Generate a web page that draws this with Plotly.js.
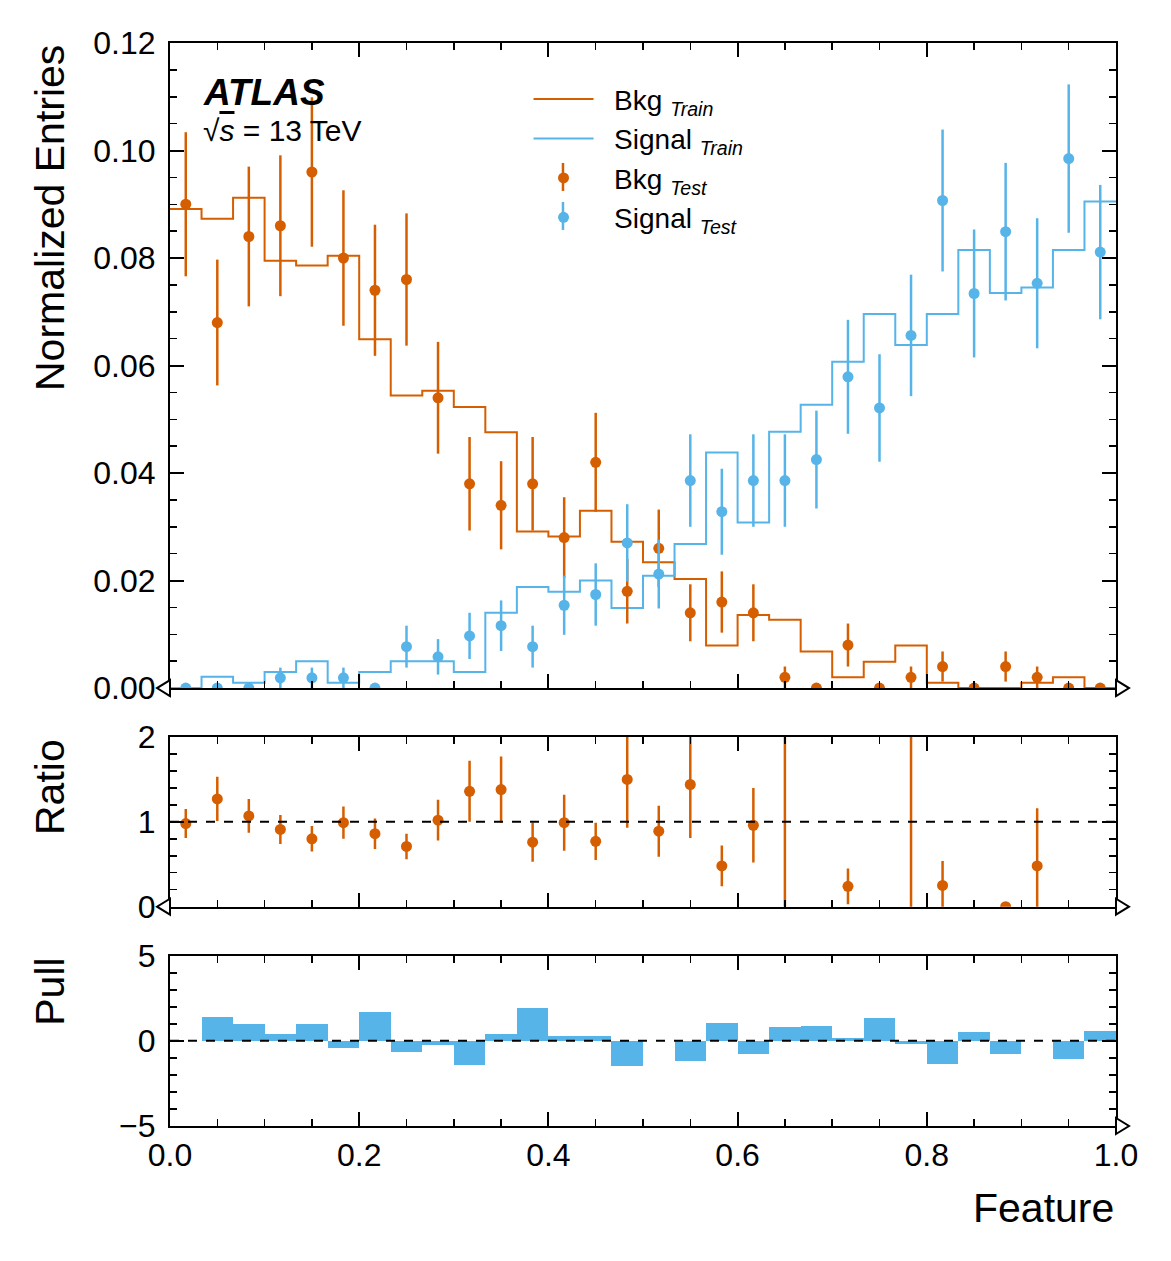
<!DOCTYPE html>
<html>
<head>
<meta charset="utf-8">
<script src="https://cdn.plot.ly/plotly-3.0.1.min.js"></script>
<style>
  body { margin: 0; background: #fff; }
  #plot { width: 1171px; height: 1261px; }
</style>
</head>
<body>
<div id="plot"></div>
<script>
// histogram binning of the feature (30 equal bins on [0, 1])
const nBins = 30;
const binEdges = [];
for (let i = 0; i <= nBins; i++) binEdges.push(i / nBins);
const binCenters = binEdges.slice(0, -1).map((e, i) => (e + binEdges[i + 1]) / 2);

// training histograms (normalized)
const bkgTrain = [0.0891, 0.0873, 0.0912, 0.0795, 0.0786, 0.0804, 0.0649, 0.0544, 0.0553, 0.0523,
                  0.0476, 0.0291, 0.0282, 0.0330, 0.0272, 0.0234, 0.0203, 0.0079, 0.0136, 0.0127,
                  0.0068, 0.0020, 0.0049, 0.0079, 0.0010, 0, 0, 0.0010, 0.0020, 0];
const sigTrain = [0, 0.0021, 0.0010, 0.0030, 0.0050, 0.0010, 0.0030, 0.0050, 0.0050, 0.0030,
                  0.0140, 0.0188, 0.0179, 0.0200, 0.0149, 0.0209, 0.0268, 0.0438, 0.0308, 0.0477,
                  0.0527, 0.0607, 0.0696, 0.0638, 0.0696, 0.0815, 0.0735, 0.0745, 0.0815, 0.0905];

// test samples (normalized) with their errors
const bkgTest = [0.090, 0.068, 0.084, 0.086, 0.096, 0.080, 0.074, 0.076, 0.054, 0.038,
                 0.034, 0.038, 0.028, 0.042, 0.018, 0.026, 0.014, 0.016, 0.014, 0.002,
                 0, 0.008, 0, 0.002, 0.004, 0, 0.004, 0.002, 0, 0];
const bkgTestErr = [0.0134, 0.0117, 0.0130, 0.0131, 0.0139, 0.0126, 0.0122, 0.0123, 0.0104, 0.0087,
                    0.0082, 0.0087, 0.0075, 0.0092, 0.0060, 0.0072, 0.0053, 0.0057, 0.0053, 0.0020,
                    0, 0.0040, 0, 0.0020, 0.0028, 0, 0.0028, 0.0020, 0, 0];
const sigTest = [0, 0, 0, 0.0019, 0.0019, 0.0019, 0, 0.0077, 0.0058, 0.0097,
                 0.0116, 0.0077, 0.0154, 0.0174, 0.0270, 0.0212, 0.0386, 0.0328, 0.0386, 0.0386,
                 0.0425, 0.0579, 0.0521, 0.0656, 0.0907, 0.0734, 0.0849, 0.0753, 0.0985, 0.0811];
const sigTestErr = [0, 0, 0, 0.0019, 0.0019, 0.0019, 0, 0.0039, 0.0033, 0.0043,
                    0.0047, 0.0039, 0.0055, 0.0058, 0.0072, 0.0064, 0.0086, 0.0080, 0.0086, 0.0086,
                    0.0091, 0.0106, 0.0100, 0.0113, 0.0132, 0.0119, 0.0128, 0.0121, 0.0138, 0.0125];

// bkg ratio panel
const ratio = [0.98, 1.27, 1.07, 0.91, 0.80, 0.99, 0.86, 0.71, 1.02, 1.36,
               1.38, 0.76, 0.99, 0.77, 1.50, 0.89, 1.44, 0.48, 0.96, 6.35,
               null, 0.24, null, 3.95, 0.25, null, 0, 0.48, null, null];
const ratioErr = [0.17, 0.26, 0.20, 0.17, 0.15, 0.19, 0.18, 0.15, 0.24, 0.36,
                  0.39, 0.23, 0.33, 0.22, 0.57, 0.30, 0.63, 0.24, 0.44, 6.4,
                  null, 0.21, null, 4.0, 0.29, null, 0, 0.68, null, null];

// signal pull panel
const pull = [0, 1.39, 0.98, 0.39, 0.98, -0.41, 1.69, -0.65, -0.25, -1.43,
              0.39, 1.92, 0.31, 0.31, -1.47, 0, -1.18, 1.04, -0.76, 0.80,
              0.86, 0.16, 1.33, -0.18, -1.35, 0.51, -0.76, 0, -1.06, 0.57];

const ORANGE = '#d55e00';
const BLUE = '#56b4e9';
const FONT = 'Liberation Sans, Arial, Helvetica, sans-serif';
const GAP = '\u00a0\u00a0';

// step outline: left edges + last right edge
function stepY(vals) { return vals.concat([vals[vals.length - 1]]); }

const data = [
    {
        x: binEdges, y: stepY(bkgTrain), xaxis: 'x2', yaxis: 'y2',
        type: 'scatter', mode: 'lines', line: {shape: 'hv', color: ORANGE, width: 2},
        name: GAP + 'Bkg <sub><i>Train</i></sub>'
    },
    {
        x: binEdges, y: stepY(sigTrain), xaxis: 'x2', yaxis: 'y2',
        type: 'scatter', mode: 'lines', line: {shape: 'hv', color: BLUE, width: 2},
        name: GAP + 'Signal <sub><i>Train</i></sub>'
    },
    {
        x: binCenters, y: bkgTest, xaxis: 'x2', yaxis: 'y2',
        type: 'scatter', mode: 'markers', marker: {color: ORANGE, size: 11},
        error_y: {type: 'data', array: bkgTestErr, visible: true, color: ORANGE, thickness: 2.5, width: 0},
        name: GAP + 'Bkg <sub><i>Test</i></sub>'
    },
    {
        x: binCenters, y: sigTest, xaxis: 'x2', yaxis: 'y2',
        type: 'scatter', mode: 'markers', marker: {color: BLUE, size: 11},
        error_y: {type: 'data', array: sigTestErr, visible: true, color: BLUE, thickness: 2.5, width: 0},
        name: GAP + 'Signal <sub><i>Test</i></sub>'
    },
    {
        x: binCenters, y: ratio, xaxis: 'x3', yaxis: 'y3',
        type: 'scatter', mode: 'markers', marker: {color: ORANGE, size: 11},
        error_y: {type: 'data', array: ratioErr, visible: true, color: ORANGE, thickness: 2.5, width: 0},
        showlegend: false
    },
    {
        x: binCenters, y: pull, xaxis: 'x', yaxis: 'y',
        type: 'bar', width: 1 / nBins, marker: {color: BLUE, line: {width: 0}},
        showlegend: false
    }
];

const axisBase = {
    showline: true, linecolor: 'black', linewidth: 2, mirror: 'allticks',
    ticks: 'inside', ticklen: 14, tickwidth: 2, tickcolor: 'black',
    showgrid: false, zeroline: false,
    tickfont: {family: FONT, size: 32, color: 'black'},
    ticklabelstandoff: 6,
};

function minor(dtick) {
    return {ticks: 'inside', ticklen: 7, tickwidth: 1.5, tickcolor: 'black', dtick: dtick, showgrid: false};
}

const mainDom = [0.4044, 1];
const ratioDom = [0.2025, 0.3592];
const pullDom = [0, 0.1572];

// open triangles marking the axis ends
function tri(xa, ya, dir) {
    const p = dir < 0 ? 'M0,-8 L-13,0 L0,8 Z' : 'M0,-8 L13,0 L0,8 Z';
    return {
        type: 'path', xref: 'paper', yref: 'paper', xsizemode: 'pixel', ysizemode: 'pixel',
        xanchor: xa, yanchor: ya, path: p,
        line: {color: 'black', width: 2}, fillcolor: 'white', layer: 'above'
    };
}

// little error-bar stroke behind the legend markers of the test samples
function legendBar(ya, color) {
    return {
        type: 'line', xref: 'paper', yref: 'paper', ysizemode: 'pixel', yanchor: ya,
        x0: 0.4154, x1: 0.4154, y0: -14, y1: 14,
        line: {color: color, width: 2.5}, layer: 'above'
    };
}

const layout = {
    width: 1171, height: 1261,
    margin: {l: 170, r: 55, t: 43, b: 135},
    paper_bgcolor: 'white', plot_bgcolor: 'white',
    font: {family: FONT, color: 'black'},
    showlegend: true,
    legend: {
        x: 0.379, y: 0.971, xanchor: 'left', yanchor: 'top',
        bgcolor: 'rgba(0,0,0,0)', font: {family: FONT, size: 28},
        itemwidth: 60, tracegroupgap: 0
    },
    bargap: 0,
    xaxis: Object.assign({}, axisBase, {
        domain: [0, 1], range: [0, 1], anchor: 'y', dtick: 0.2, tick0: 0,
        tickformat: '.1f', minor: minor(0.05), ticklabelstandoff: 0
    }),
    xaxis2: Object.assign({}, axisBase, {
        domain: [0, 1], range: [0, 1], anchor: 'y2', matches: 'x', dtick: 0.2, tick0: 0,
        showticklabels: false, minor: minor(0.05)
    }),
    xaxis3: Object.assign({}, axisBase, {
        domain: [0, 1], range: [0, 1], anchor: 'y3', matches: 'x', dtick: 0.2, tick0: 0,
        showticklabels: false, minor: minor(0.05)
    }),
    yaxis: Object.assign({}, axisBase, {
        domain: pullDom, range: [-5, 5], anchor: 'x', dtick: 5, tick0: 0, minor: minor(1)
    }),
    yaxis2: Object.assign({}, axisBase, {
        domain: mainDom, range: [0, 0.12], anchor: 'x2', dtick: 0.02, tick0: 0,
        tickformat: '.2f', minor: minor(0.005)
    }),
    yaxis3: Object.assign({}, axisBase, {
        domain: ratioDom, range: [0, 2], anchor: 'x3', dtick: 1, tick0: 0, minor: minor(0.2)
    }),
    shapes: [
        {type: 'line', xref: 'paper', yref: 'y3', x0: 0, x1: 1, y0: 1, y1: 1,
         line: {color: 'black', width: 2, dash: 'dash'}},
        {type: 'line', xref: 'paper', yref: 'y', x0: 0, x1: 1, y0: 0, y1: 0,
         line: {color: 'black', width: 2, dash: 'dash'}},
        tri(0, mainDom[0], -1), tri(1, mainDom[0], 1),
        tri(0, ratioDom[0], -1), tri(1, ratioDom[0], 1),
        tri(1, pullDom[0], 1),
        legendBar(0.8763, ORANGE), legendBar(0.8403, BLUE)
    ],
    annotations: [
        {text: '<b><i>ATLAS</i></b>', xref: 'paper', yref: 'paper', x: 0.033, y: 0.975,
         xanchor: 'left', yanchor: 'top', showarrow: false, font: {size: 37}},
        {text: '√<span style="text-decoration:overline"><i>s</i></span> = 13 TeV',
         xref: 'paper', yref: 'paper', x: 0.033, y: 0.936,
         xanchor: 'left', yanchor: 'top', showarrow: false, font: {size: 30}},
        {text: 'Normalized Entries', xref: 'paper', yref: 'paper', x: 0, xshift: -120, y: 1,
         xanchor: 'center', yanchor: 'top', textangle: -90, showarrow: false, font: {size: 41}},
        {text: 'Ratio', xref: 'paper', yref: 'paper', x: 0, xshift: -120, y: ratioDom[1],
         xanchor: 'center', yanchor: 'top', textangle: -90, showarrow: false, font: {size: 41}},
        {text: 'Pull', xref: 'paper', yref: 'paper', x: 0, xshift: -120, y: pullDom[1],
         xanchor: 'center', yanchor: 'top', textangle: -90, showarrow: false, font: {size: 41}},
        {text: 'Feature', xref: 'paper', yref: 'paper', x: 1, y: -0.0757,
         xanchor: 'right', yanchor: 'middle', showarrow: false, font: {size: 41}}
    ]
};

Plotly.newPlot('plot', data, layout, {displayModeBar: false, staticPlot: true});
</script>
</body>
</html>
